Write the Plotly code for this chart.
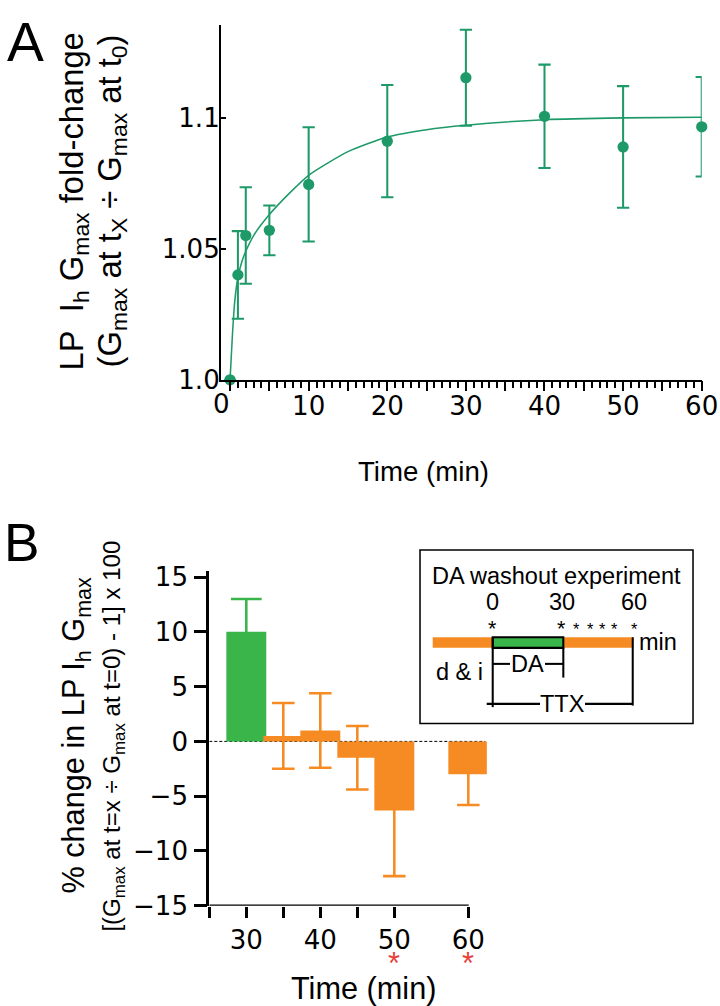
import plotly.graph_objects as go

# ---------------- data ----------------
# Panel A: LP Ih Gmax fold-change vs time
a_time = [0, 1, 2, 5, 10, 20, 30, 40, 50, 60]
a_fold = [1.000, 1.040, 1.055, 1.057, 1.0745, 1.091, 1.1152, 1.1005, 1.0888, 1.0965]
a_err = [0.0, 0.0167, 0.0184, 0.0095, 0.0218, 0.0214, 0.0183, 0.0197, 0.0232, 0.0190]
# fitted curve
fit_time = [0, 0.3, 0.6, 1, 1.5, 2, 3, 5, 7.5, 10, 15, 20, 25, 30, 40, 50, 60]
fit_fold = [1.000, 1.017, 1.030, 1.039, 1.045, 1.049, 1.055, 1.063, 1.071, 1.078,
            1.087, 1.0926, 1.0954, 1.0971, 1.0992, 1.0999, 1.1001]
a_minor_tick_vals = list(range(0, 61))
a_xtick_text = [str(v) if (v % 10 == 0 and v > 0) else "" for v in a_minor_tick_vals]
a_major_tick_vals = [0, 5, 10, 15, 20, 25, 30, 35, 40, 45, 50, 55, 60]
a_ytick_vals = [1.0, 1.05, 1.1]
a_ytick_text = ["1.0", "1.05", "1.1"]

# Panel B: % change in LP Ih Gmax (DA washout)
b_time = [30, 35, 40, 45, 50, 60]
b_change = [10.0, 0.5, 1.0, -1.5, -6.3, -3.0]
b_err = [3.0, 3.0, 3.4, 2.9, 6.0, 2.8]
b_phase = ["DA", "wash", "wash", "wash", "wash", "wash"]
b_sig_time = [50, 60]
b_xtick_vals = [25, 30, 35, 40, 45, 50, 60]
b_xtick_text = ["", "30", "", "40", "", "50", "60"]
b_ytick_vals = [-15, -10, -5, 0, 5, 10, 15]

# inset timeline labels
inset_times = ["0", "30", "60"]

# ---------------- styles ----------------
FONT = "Arial, 'Liberation Sans', sans-serif"
TICKFONT = "'DejaVu Sans', Arial, sans-serif"
GREEN_A = "#1d9a68"
GREEN_B = "#3ab54a"
ORANGE = "#f58b22"
RED = "#e8413c"

# page geometry: the captured page is fitted into 720x1006; lay out on a
# 737x1014 page so that target pixel coordinates map 1:1 after fitting.
S = 0.9769
OY = 7.7
FW, FH = 737, 1014


def px(x):
    return (x / S) / FW


def py(y):
    return 1 - ((y - OY) / S) / FH


def sz(v):
    return v / S


fig = go.Figure()

# Panel A fit line (on overlay axis x3 with identical mapping)
fig.add_trace(go.Scatter(
    x=fit_time, y=fit_fold, mode="lines",
    line=dict(color=GREEN_A, width=sz(1.5), shape="spline", smoothing=0.6),
    xaxis="x3", yaxis="y", showlegend=False, hoverinfo="skip", cliponaxis=False))
# Panel A points
fig.add_trace(go.Scatter(
    x=a_time, y=a_fold, mode="markers",
    marker=dict(color=GREEN_A, size=sz(11)),
    error_y=dict(type="data", array=a_err, color=GREEN_A, thickness=sz(2), width=sz(6)),
    xaxis="x", yaxis="y", showlegend=False, cliponaxis=False))

# Panel B bars
for phase, color, capw in [("DA", GREEN_B, 15), ("wash", ORANGE, 11)]:
    xs = [t for t, p in zip(b_time, b_phase) if p == phase]
    ys = [v for v, p in zip(b_change, b_phase) if p == phase]
    es = [e for e, p in zip(b_err, b_phase) if p == phase]
    fig.add_trace(go.Bar(
        x=xs, y=ys, width=5.4, marker=dict(color=color, line=dict(width=0)),
        error_y=dict(type="data", array=es, color=color, thickness=sz(2.5), width=sz(capw)),
        xaxis="x2", yaxis="y2", showlegend=False))

tickfont = dict(family=TICKFONT, size=sz(25.5), color="black")
A_XDOM = [px(221), px(701.7)]
A_XRANGE = [-1.15, 60]

fig.update_layout(
    width=FW, height=FH, autosize=False,
    margin=dict(l=0, r=0, t=0, b=0),
    paper_bgcolor="white", plot_bgcolor="white",
    barmode="overlay",
    font=dict(family=FONT, color="black"),
    xaxis=dict(
        domain=A_XDOM, range=A_XRANGE, anchor="y",
        showline=True, linewidth=sz(2), linecolor="black",
        showgrid=False, zeroline=False,
        ticks="outside", ticklen=sz(6), tickwidth=sz(1.5), tickcolor="black",
        tickmode="array", tickvals=a_minor_tick_vals, ticktext=a_xtick_text,
        tickfont=tickfont, ticklabelstandoff=-4,
    ),
    xaxis3=dict(
        domain=A_XDOM, range=A_XRANGE, anchor="y", overlaying="x",
        showline=False, showgrid=False, zeroline=False,
        ticks="outside", ticklen=sz(10), tickwidth=sz(1.5), tickcolor="black",
        tickmode="array", tickvals=a_major_tick_vals, showticklabels=False,
    ),
    yaxis=dict(
        domain=[py(379.3), py(25)], range=[1.0, 1.1352], anchor="x",
        showline=True, linewidth=sz(2), linecolor="black",
        showgrid=False, zeroline=False,
        ticks="inside", ticklen=sz(5), tickwidth=sz(2), tickcolor="black",
        tickmode="array", tickvals=a_ytick_vals, ticktext=a_ytick_text,
        tickfont=tickfont, ticklabelstandoff=-6,
    ),
    xaxis2=dict(
        domain=[px(209.3), px(209.3 + 37.5 * 7.4)], range=[25, 62.5], anchor="y2",
        showline=False, showgrid=False, zeroline=False,
        ticks="outside", ticklen=sz(11), tickwidth=sz(2.5), tickcolor="black",
        tickmode="array", tickvals=b_xtick_vals, ticktext=b_xtick_text,
        tickfont=tickfont, ticklabelstandoff=0,
    ),
    yaxis2=dict(
        domain=[py(905), py(570)], range=[-15, 15.6], anchor="x2",
        showline=True, linewidth=sz(2.5), linecolor="black",
        showgrid=False, zeroline=False,
        ticks="outside", ticklen=sz(12), tickwidth=sz(2.5), tickcolor="black",
        tickmode="array", tickvals=b_ytick_vals,
        tickfont=tickfont, ticklabelstandoff=1,
    ),
)

shapes = []
# B x axis line (ends at 60)
shapes.append(dict(type="line", xref="x2", yref="y2", x0=25, x1=60.05, y0=-15, y1=-15,
                   line=dict(color="black", width=sz(2.5))))
# B dashed zero line
shapes.append(dict(type="line", xref="x2", yref="y2", x0=25, x1=62.3, y0=0, y1=0,
                   line=dict(color="black", width=1, dash="3px,2px"), layer="below"))


def pline(x0, y0, x1, y1, w=2):
    shapes.append(dict(type="line", xref="paper", yref="paper",
                       x0=px(x0), y0=py(y0), x1=px(x1), y1=py(y1),
                       line=dict(color="black", width=sz(w))))


# inset box and timeline
shapes.append(dict(type="rect", xref="paper", yref="paper",
                   x0=px(420), x1=px(693), y0=py(723), y1=py(549.5),
                   line=dict(color="black", width=sz(1.5)), fillcolor="white"))
shapes.append(dict(type="rect", xref="paper", yref="paper",
                   x0=px(432.7), x1=px(633.3), y0=py(647.3), y1=py(636.7),
                   line=dict(width=0), fillcolor=ORANGE))
shapes.append(dict(type="rect", xref="paper", yref="paper",
                   x0=px(492.7), x1=px(563.3), y0=py(647.3), y1=py(636.7),
                   line=dict(color="black", width=sz(2)), fillcolor=GREEN_B))
pline(492.7, 636.7, 492.7, 706.5)
pline(492.7, 663.3, 510, 663.3)
pline(545, 663.3, 563.3, 663.3)
pline(563.3, 646.7, 563.3, 677)
pline(486.7, 703.3, 540, 703.3)
pline(585, 703.3, 632.7, 703.3)
pline(632.7, 636.7, 632.7, 705)

fig.update_layout(shapes=shapes)

ann = []


def text(x, y, s, size, color="black", xanchor="center", yanchor="middle", angle=0, family=FONT):
    ann.append(dict(xref="paper", yref="paper", x=px(x), y=py(y), text=s,
                    showarrow=False, xanchor=xanchor, yanchor=yanchor,
                    textangle=angle, font=dict(family=family, size=sz(size), color=color)))


# panel letters
text(25, 8.2, "A", 54, yanchor="top")
text(22, 542, "B", 52)

# Panel A titles
text(74, 201, "LP\u00a0 I<sub>h</sub> G<sub>max</sub> fold-change", 32, angle=-90)
text(112, 201, "(G<sub>max</sub> at t<sub>X</sub> ÷ G<sub>max</sub> at t<sub>0</sub>)", 32, angle=-90)
text(423, 471, "Time (min)", 27)
text(221, 404, "0", 25.5, family=TICKFONT)

# Panel B titles
text(76, 735, "% change in LP I<sub>h</sub> G<sub>max</sub>", 30, angle=-90)
text(114, 736, "[(G<sub>max</sub> at t=x ÷ G<sub>max</sub> at t=0) - 1] x 100", 23.5, angle=-90)
text(363, 988, "Time (min)", 30)

# significance asterisks under B ticks
for t in b_sig_time:
    ann.append(dict(xref="x2", yref="paper", x=t, y=py(962.5), text="*",
                    showarrow=False, xanchor="center", yanchor="middle",
                    font=dict(family=FONT, size=sz(30), color=RED)))

# inset texts
text(556.7, 575, "DA washout experiment", 23)
for lab, xx in zip(inset_times, [492.7, 561.7, 634.3]):
    text(xx, 601.5, lab, 23)
for xx in [492.7, 561.7]:
    text(xx, 628, "*", 21)
for xx in [576.7, 590, 602.3, 614.3, 634.3]:
    text(xx, 628, "*", 16)
text(637, 641, "min", 23, xanchor="left")
text(459, 671, "d &amp; i", 23)
text(527.5, 663, "DA", 23)
text(562.3, 703, "TTX", 23)

fig.update_layout(annotations=ann)

css = ("var s=document.createElement('style');"
       "s.innerHTML='html,body{margin:0;padding:0;overflow:hidden;}';"
       "document.head.appendChild(s);")
fig.write_html(
    "out.html",
    config={"displayModeBar": False, "responsive": False},
    post_script=css,
)
